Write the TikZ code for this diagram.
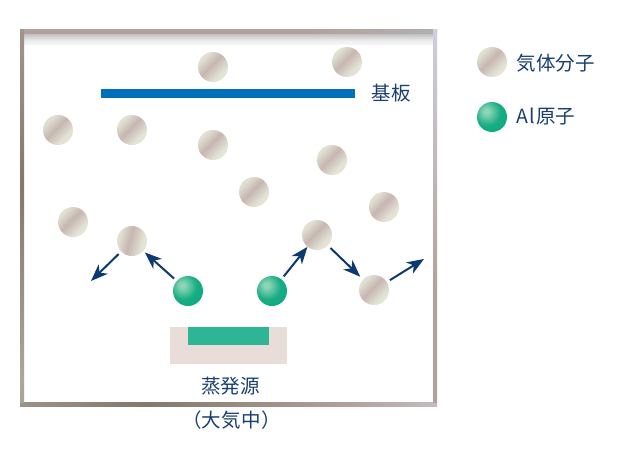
\documentclass[tikz,border=0pt]{standalone}
\usepackage{fontspec}
\setmainfont{Noto Sans CJK JP}
\usetikzlibrary{arrows.meta}
\definecolor{ink}{HTML}{1B3F73}
\definecolor{arrowc}{HTML}{0B3A70}
\definecolor{pa}{HTML}{E0E0D2}
\definecolor{pb}{HTML}{C6B6B1}
\definecolor{pc}{HTML}{E4E4D6}
\definecolor{ga}{HTML}{8CD6B6}
\definecolor{gb}{HTML}{18AC84}
\definecolor{gc}{HTML}{00AC80}
\definecolor{gd}{HTML}{70E6C8}
\definecolor{frA}{HTML}{CDCFDB}
\definecolor{frB}{HTML}{B3A29B}
\definecolor{frC}{HTML}{B0B3B8}
\definecolor{frD}{HTML}{83786A}
\definecolor{frE}{HTML}{AEA69B}
\definecolor{barblue}{HTML}{0070BA}
\definecolor{cruc}{HTML}{E8DDD9}
\definecolor{meltg}{HTML}{2DB595}
\definecolor{shadeA}{HTML}{BBBBBB}
\definecolor{shadeB}{HTML}{777777}
\definecolor{shadeC}{HTML}{EEEEEE}
\pgfdeclarehorizontalshading{gasband}{100bp}{color(0bp)=(pa);color(28bp)=(pa);color(46bp)=(pb);color(68bp)=(pc);color(100bp)=(pc)}
\pgfdeclareradialshading{albead}{\pgfpoint{-10bp}{10bp}}{color(0bp)=(ga);color(4bp)=(ga);color(22bp)=(gb);color(46bp)=(gc);color(62bp)=(gd);color(100bp)=(gd)}
\pgfdeclarehorizontalshading{frametop}{100bp}{color(0bp)=(frA);color(10bp)=(frA);color(22bp)=(frB);color(60bp)=(frB);color(80bp)=(frC);color(100bp)=(frC)}
\pgfdeclarehorizontalshading{framebot}{100bp}{color(0bp)=(frD);color(14bp)=(frE);color(40bp)=(frD);color(65bp)=(frB);color(82bp)=(frA);color(94bp)=(frB);color(100bp)=(frB)}
\pgfdeclareverticalshading{frameleft}{100bp}{color(0bp)=(frD);color(28bp)=(frE);color(54bp)=(frD);color(85bp)=(frB);color(100bp)=(frA)}
\pgfdeclareverticalshading{frameright}{100bp}{color(0bp)=(frB);color(40bp)=(frB);color(75bp)=(frA);color(100bp)=(frC)}
\pgfdeclareverticalshading{frameshadow}{100bp}{color(0bp)=(white);color(40bp)=(shadeC);color(75bp)=(shadeA);color(100bp)=(shadeB)}
\tikzset{
  gas/.style={circle,inner sep=0pt,minimum size=30pt,shade,shading=gasband,shading angle=#1},
  gas/.default=-45,
  albd/.style={circle,inner sep=0pt,minimum size=30pt,shade,shading=albead},
  label text/.style={text=ink,inner sep=0pt,font=\fontsize{19.5}{22}\selectfont},
  flight/.style={draw=arrowc,line width=2pt,-{Stealth[length=17pt,width=13pt,inset=5pt]},shorten <=3.5pt,shorten >=2pt},
}
\begin{document}
\begin{tikzpicture}[x=1pt,y=-1pt]
\useasboundingbox (0,0) rectangle (632,458);
\fill[white] (0,0) rectangle (632,458);
% frame
\shade[shading=frameshadow] (24,33) rectangle (433,44);
\shade[shading=frametop] (20,29) rectangle (437,33);
\shade[shading=framebot] (20,402) rectangle (437,406);
\shade[shading=frameleft] (20,29) rectangle (24,402);
\shade[shading=frameright] (433,29) rectangle (437,402);
% substrate and source
\node[fill=barblue,inner sep=0pt,minimum width=254pt,minimum height=9pt] (substrate) at (228,93.5) {};
\node[fill=cruc,inner sep=0pt,minimum width=117pt,minimum height=37pt] (crucible) at (228.5,345.5) {};
\node[fill=meltg,inner sep=0pt,minimum width=81pt,minimum height=18pt] (melt) at (228.5,336) {};
% gas molecules
\node[gas] (g1) at (213,67) {};
\node[gas] (g2) at (347,62) {};
\node[gas] (g3) at (58,130) {};
\node[gas] (g4) at (132,130) {};
\node[gas] (g5) at (213,145) {};
\node[gas] (g6) at (332,160) {};
\node[gas] (g7) at (254,192) {};
\node[gas] (g8) at (384,207) {};
\node[gas] (g9) at (73,222) {};
\node[gas=-15] (g10) at (132,241) {};
\node[gas] (g11) at (317,235) {};
\node[gas] (g12) at (374,290) {};
% aluminium atoms
\node[albd] (a1) at (188,291) {};
\node[albd] (a2) at (272,291) {};
% free ends
\coordinate (e1) at (91,281);
\coordinate (e2) at (424,259);
% arrows
\draw[flight,shorten >=0pt] (g10) -- (e1);
\draw[flight] (a1) -- (g10);
\draw[flight,shorten >=0pt] (a2) -- (g11);
\draw[flight,shorten >=4pt] (g11) -- (g12);
\draw[flight,shorten >=0pt] (g12) -- (e2);
% labels
\node[label text] (tsub) at (391,93) {基板};
\node[label text] (tsrc) at (230.5,386) {蒸発源};
\node[label text] (tair) at (231.5,420) {（大\kern.5pt 気\kern.5pt 中）};
% legend
\node[gas] (lg) at (492,62) {};
\node[albd] (la) at (492,117) {};
\node[label text,anchor=west] (tlg) at (516.5,63) {気体分子};
\node[label text,anchor=west] (tla) at (516.5,117) {A\kern1pt l\kern1pt 原子};
\end{tikzpicture}
\end{document}
